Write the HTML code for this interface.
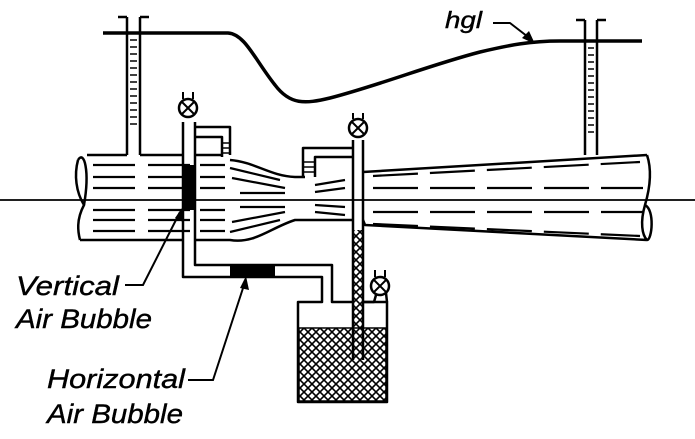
<!DOCTYPE html>
<html><head><style>
html,body{margin:0;padding:0;background:#fff;width:695px;height:439px;overflow:hidden}
svg{display:block}
text{font-family:"Liberation Sans",sans-serif;font-style:italic;fill:#000;stroke:#000;stroke-width:0.4}
</style></head><body>
<svg width="695" height="439" viewBox="0 0 695 439" xmlns="http://www.w3.org/2000/svg">
<defs>
<pattern id="xh" width="8" height="8" patternUnits="userSpaceOnUse">
<path d="M0 0L8 8M8 0L0 8" stroke="#000" stroke-width="1.6"/>
</pattern>
</defs>
<g fill="none" stroke="#000" stroke-width="2.5" stroke-linejoin="round">
<line x1="0" y1="200" x2="695" y2="200" stroke-width="1.8"/>
<path d="M103 33 L228 33 C245 34 255 60 275 85 C290 105 305 104 330 98 C380 85 430 65 480 52 C510 45 530 41 560 41 L642 41" stroke-width="3.5"/>
<path d="M493 23 L510 23 L532 40" stroke-width="2"/>
<polygon points="535,44 522,38 529,31" fill="#000" stroke="none"/>
<path d="M87 155 L127 155 M140 155 L183 155 M195 155 L222 155"/>
<path d="M80 240 L183 240 M195 240 L230 240 C255 244 270 228 295 220 L345 220 L353 220 M363 220 L365 225 L647 240"/>
<path d="M230 160 C255 162 270 176 295 177 L305 177"/>
<path d="M363 172 L647 155"/>
<path d="M78 160 C74 175 76 192 84 205 C76 220 78 232 80 240"/>
<path d="M78 160 C84 150 90 170 84 205"/>
<path d="M647 155 C652 170 650 188 645 205 C640 222 642 235 647 240"/>
<path d="M645 205 C655 210 652 240 647 240"/>
<path d="M127 155 L127 17 M140 155 L140 17 M118 17 L127 17 M140 17 L149 17"/>
<g stroke-width="1.5">
<path d="M130 40h7M130 47h7M130 54h7M130 61h7M130 68h7M130 75h7M130 82h7M130 89h7M130 96h7M130 103h7M130 110h7M130 117h7M130 124h7"/>
</g>
<path d="M585 155 L585 20 M597 155 L597 20 M576 20 L585 20 M597 20 L606 20"/>
<g stroke-width="1.5">
<path d="M588 48h6M588 55h6M588 62h6M588 69h6M588 76h6M588 83h6M588 90h6M588 97h6M588 104h6M588 111h6M588 118h6M588 125h6M588 132h6"/>
</g>
<g stroke-width="2.2">
<path d="M93 165h42M148 165h42M200 165h25M93 177h42M148 177h42M200 177h25M93 188h42M148 188h42M200 188h25M93 210h42M148 210h42M200 210h25M93 220h42M148 220h42M200 220h25M93 231h42M148 231h42M200 231h25"/>
<path d="M230 168 L280 180M232 178 L285 188M240 193h45M240 207h45M232 222 L285 212M230 232 L280 220"/>
<path d="M315 185 L345 180M315 192 L345 188M315 205 L345 207M315 212 L345 215"/>
<path d="M373 176 L640 162M373 188h270M373 212h270M373 224 L640 236" stroke-dasharray="45 12"/>
</g>
<path d="M183 122 L183 277 L322 277 L322 302 L298 302 L298 402 L387 402 L387 302 L363 302"/>
<path d="M195 122 L195 265 L332 265 L332 302 L353 302"/>
<circle cx="188" cy="108" r="9"/>
<path d="M182 102 L194 114 M194 102 L182 114 M183 92 L183 99 M193 92 L193 99" stroke-width="2"/>
<path d="M195 127 L230 127 L230 155 M195 137 L222 137 L222 157"/>
<path d="M223 143h7M223 148h7M223 153h7" stroke-width="1.5"/>
<path d="M353 140 L353 360 M363 140 L363 360"/>
<circle cx="358" cy="128" r="9"/>
<path d="M352 122 L364 134 M364 122 L352 134 M353 113 L353 119 M363 113 L363 119" stroke-width="2"/>
<path d="M353 148 L303 148 L303 177 M353 157 L315 157 L315 177"/>
<path d="M304 162h10M304 167h10M304 172h10" stroke-width="1.5"/>
<circle cx="380" cy="286" r="9"/>
<path d="M374 280 L386 292 M386 280 L374 292 M375 270 L375 277 M385 270 L385 277" stroke-width="2"/>
<path d="M363 302 L374 302 L376 295 M386 293 L387 302"/>
</g>
<rect x="299" y="328" width="87" height="73" fill="url(#xh)" stroke="#000" stroke-width="1.5"/>
<rect x="354" y="230" width="8" height="98" fill="url(#xh)"/>
<rect x="183" y="165" width="12" height="45" fill="#000"/>
<rect x="230" y="265" width="45" height="12" fill="#000"/>
<g fill="none" stroke="#000" stroke-width="2">
<path d="M125 285 L143 285 L180 212"/>
<path d="M188 380 L213 380 L245 282"/>
</g>
<polygon points="182,208 183,222 175,218" fill="#000"/>
<polygon points="246,276 249,290 240,288" fill="#000"/>
<text x="16" y="295" font-size="27" textLength="103" lengthAdjust="spacingAndGlyphs">Vertical</text>
<text x="16" y="328" font-size="27" textLength="136" lengthAdjust="spacingAndGlyphs">Air Bubble</text>
<text x="47" y="388" font-size="27" textLength="138" lengthAdjust="spacingAndGlyphs">Horizontal</text>
<text x="47" y="423" font-size="27" textLength="136" lengthAdjust="spacingAndGlyphs">Air Bubble</text>
<text x="445" y="28" font-size="23" textLength="37" lengthAdjust="spacingAndGlyphs">hgl</text>
</svg>
</body></html>
